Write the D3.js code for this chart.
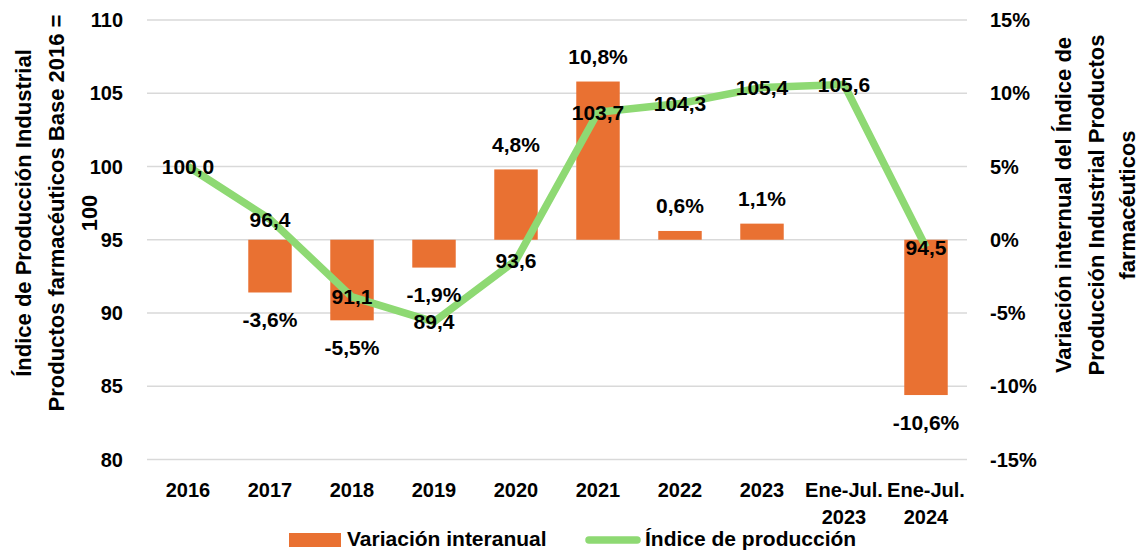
<!DOCTYPE html>
<html><head><meta charset="utf-8">
<script src="https://cdn.jsdelivr.net/npm/d3@7/dist/d3.min.js"></script>
<style>
body{margin:0;background:#fff;}
text{font-family:"Liberation Sans",Arial,sans-serif;font-weight:bold;fill:#000;}
</style></head><body>
<svg id="c" width="1142" height="551"></svg>
<script>
const categories = ["2016","2017","2018","2019","2020","2021","2022","2023","Ene-Jul.\n2023","Ene-Jul.\n2024"];
const variacion = [null,-3.6,-5.5,-1.9,4.8,10.8,0.6,1.1,null,-10.6];
const indice = [100.0,96.4,91.1,89.4,93.6,103.7,104.3,105.4,105.6,94.5];
const leftTicks = [80,85,90,95,100,105,110];
const rightTicks = [-15,-10,-5,0,5,10,15];
const leftTitle = ["Índice de Producción Industrial","Productos farmacéuticos Base 2016 =","100"];
const rightTitle = ["Variación internual del Índice de","Producción Industrial Productos","farmacéuticos"];
const legendLabels = ["Variación interanual","Índice de producción"];

const svg = d3.select("#c");
const x0=147, x1=967, yTop=20, yBot=459.5;
const x = d3.scaleBand().domain(categories).range([x0,x1]).paddingInner(0.47).paddingOuter(0.235);
const band = d3.scaleBand().domain(categories).range([x0,x1]);
const yL = d3.scaleLinear().domain([80,110]).range([yBot,yTop]);
const yR = d3.scaleLinear().domain([-15,15]).range([yBot,yTop]);
const fmt = v => v.toFixed(1).replace(".",",");

// gridlines
svg.append("g").selectAll("line").data(leftTicks).join("line")
  .attr("x1",x0).attr("x2",x1).attr("y1",d=>yL(d)).attr("y2",d=>yL(d))
  .attr("stroke","#D9D9D9").attr("stroke-width",1.5);

// left ticks
svg.append("g").selectAll("text").data(leftTicks).join("text")
  .attr("x",123).attr("y",d=>yL(d)).attr("text-anchor","end")
  .attr("dominant-baseline","central").style("font-size","20px").text(d=>d);
// right ticks
svg.append("g").selectAll("text").data(rightTicks).join("text")
  .attr("x",990).attr("y",d=>yR(d)).attr("text-anchor","start")
  .attr("dominant-baseline","central").style("font-size","20px").text(d=>d+"%");

// bars
const barData = categories.map((c,i)=>({c,v:variacion[i]})).filter(d=>d.v!==null);
svg.append("g").selectAll("rect").data(barData).join("rect")
  .attr("x",d=>x(d.c)).attr("width",x.bandwidth())
  .attr("y",d=>yR(Math.max(0,d.v))).attr("height",d=>Math.abs(yR(d.v)-yR(0)))
  .attr("fill","#E97132");

// line
const lineData = categories.map((c,i)=>({c,v:indice[i]}));
const line = d3.line().x(d=>band(d.c)+band.bandwidth()/2).y(d=>yL(d.v));
svg.append("path").datum(lineData).attr("d",line).attr("fill","none")
  .attr("stroke","#8ED973").attr("stroke-width",7.5).attr("stroke-linejoin","round");

// bar labels
svg.append("g").selectAll("text").data(barData).join("text")
  .attr("x",d=>band(d.c)+band.bandwidth()/2)
  .attr("y",d=>d.v>=0 ? yR(d.v)-25 : yR(d.v)+27)
  .attr("text-anchor","middle").attr("dominant-baseline","central")
  .style("font-size","21px").text(d=>fmt(d.v)+"%");

// line labels
svg.append("g").selectAll("text").data(lineData).join("text")
  .attr("x",d=>band(d.c)+band.bandwidth()/2).attr("y",d=>yL(d.v))
  .attr("text-anchor","middle").attr("dominant-baseline","central")
  .style("font-size","21px").text(d=>fmt(d.v));

// category labels
const cat = svg.append("g").selectAll("text").data(categories).join("text")
  .attr("x",d=>band(d)+band.bandwidth()/2).attr("y",497)
  .attr("text-anchor","middle").style("font-size","20px");
cat.each(function(d){
  const lines=d.split("\n");
  d3.select(this).selectAll("tspan").data(lines).join("tspan")
    .attr("x",band(d)+band.bandwidth()/2).attr("dy",(l,i)=>i===0?0:27).text(l=>l);
});

// axis titles
const lx=[23,56,89];
leftTitle.forEach((t,i)=>{
  svg.append("text").attr("transform",`translate(${lx[i]},213) rotate(-90)`)
    .attr("text-anchor","middle").attr("dominant-baseline","central")
    .style("font-size","22px").text(t);
});
const rx=[1063,1096,1127];
rightTitle.forEach((t,i)=>{
  svg.append("text").attr("transform",`translate(${rx[i]},205) rotate(-90)`)
    .attr("text-anchor","middle").attr("dominant-baseline","central")
    .style("font-size","22px").text(t);
});

// legend
const lg = svg.append("g");
lg.append("rect").attr("x",289).attr("y",533).attr("width",52).attr("height",14).attr("fill","#E97132");
lg.append("text").attr("x",347).attr("y",538).attr("dominant-baseline","central").style("font-size","21px").text(legendLabels[0]);
lg.append("line").attr("x1",589).attr("x2",637).attr("y1",540).attr("y2",540)
  .attr("stroke","#8ED973").attr("stroke-width",7.5).attr("stroke-linecap","round");
lg.append("text").attr("x",645).attr("y",538).attr("dominant-baseline","central").style("font-size","21px").text(legendLabels[1]);
</script></body></html>
